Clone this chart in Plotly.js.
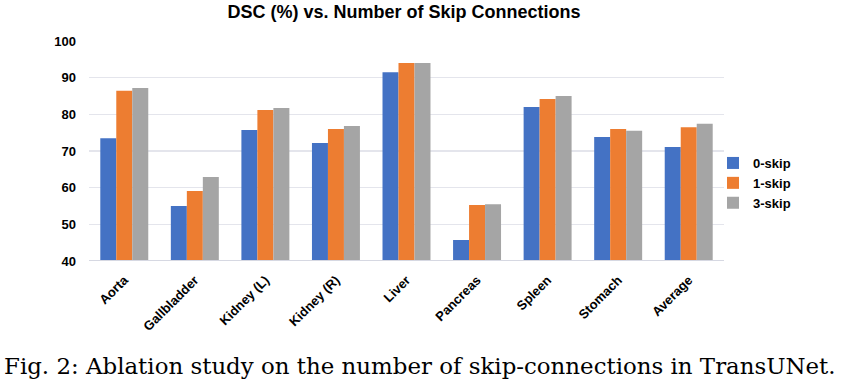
<!DOCTYPE html>
<html>
<head>
<meta charset="utf-8">
<script src="https://cdn.plot.ly/plotly-3.0.1.min.js"></script>
<style>html,body{margin:0;padding:0;background:#fff;}#chart{width:851px;height:389px;}</style>
</head>
<body>
<div id="chart"></div>
<script>
const categories = ["Aorta", "Gallbladder", "Kidney (L)", "Kidney (R)", "Liver", "Pancreas", "Spleen", "Stomach", "Average"];
const skip0 = [73.5, 55.0, 75.7, 72.2, 91.5, 45.7, 82.0, 73.8, 71.1];
const skip1 = [86.4, 59.1, 81.2, 76.0, 94.0, 55.3, 84.2, 76.0, 76.5];
const skip3 = [87.2, 62.9, 81.7, 76.8, 94.0, 55.5, 85.0, 75.5, 77.4];
const seriesNames = ["0-skip", "1-skip", "3-skip"];
const yTicks = [40, 50, 60, 70, 80, 90, 100];
const titleText = "DSC (%) vs. Number of Skip Connections";
const captionText = "Fig. 2: Ablation study on the number of skip-connections in TransUNet.";

const colors = ["#4472C4", "#ED7D31", "#A5A5A5"];
const data = [skip0, skip1, skip3].map((vals, i) => ({
  type: "bar",
  name: seriesNames[i],
  x: categories,
  y: vals,
  marker: {color: colors[i], line: {width: 0}},
  hoverinfo: "x+y+name"
}));

const layout = {
  width: 851, height: 389,
  margin: {l: 89, r: 127, t: 41, b: 128},
  paper_bgcolor: "#fff", plot_bgcolor: "#fff",
  font: {family: "Liberation Sans, Arial, sans-serif", color: "#000"},
  title: {text: "<b>" + titleText + "</b>", font: {size: 18, family: "Liberation Sans, Arial, sans-serif", color: "#000"},
          xref: "paper", x: (404 - 89) / 635, xanchor: "center", yref: "container", y: 1 - 12 / 389, yanchor: "middle"},
  barmode: "group",
  bargap: 0.32, bargroupgap: 0,
  xaxis: {
    type: "category", tickangle: -45, showgrid: false, zeroline: false,
    showline: false, ticks: "", ticklabelstandoff: 8,
    tickfont: {size: 13, family: "Liberation Sans, Arial, sans-serif", color: "#000", weight: "bold"}
  },
  yaxis: {
    range: [40, 100], tickvals: yTicks, ticktext: yTicks.map(v => "<b>" + v + "</b>"),
    showgrid: true, gridcolor: "#e4e5ec", gridwidth: 1.5, zeroline: false,
    showline: false, ticks: "", ticklen: 0, ticklabelstandoff: 12,
    tickfont: {size: 13, family: "Liberation Sans, Arial, sans-serif", color: "#000"}
  },
  legend: {
    x: (713 - 89) / 635, xanchor: "left", y: (261 - 183) / 220, yanchor: "middle",
    font: {size: 13, family: "Liberation Sans, Arial, sans-serif", color: "#000", weight: "bold"},
    bgcolor: "rgba(0,0,0,0)", borderwidth: 0, tracegroupgap: 0
  },
  shapes: [{type: "line", xref: "paper", yref: "y", x0: 0, x1: 1, y0: 40, y1: 40,
            line: {color: "#d6d8e2", width: 2}}],
  annotations: [{
    text: captionText, xref: "paper", yref: "paper", x: (420 - 89) / 635, y: -(366 - 261) / 220,
    xanchor: "center", yanchor: "middle", showarrow: false,
    font: {family: "DejaVu Serif, Liberation Serif, serif", size: 22.9, color: "#000"}
  }],
  showlegend: true
};

Plotly.newPlot("chart", data, layout, {displayModeBar: false, staticPlot: true});
</script>
</body>
</html>
